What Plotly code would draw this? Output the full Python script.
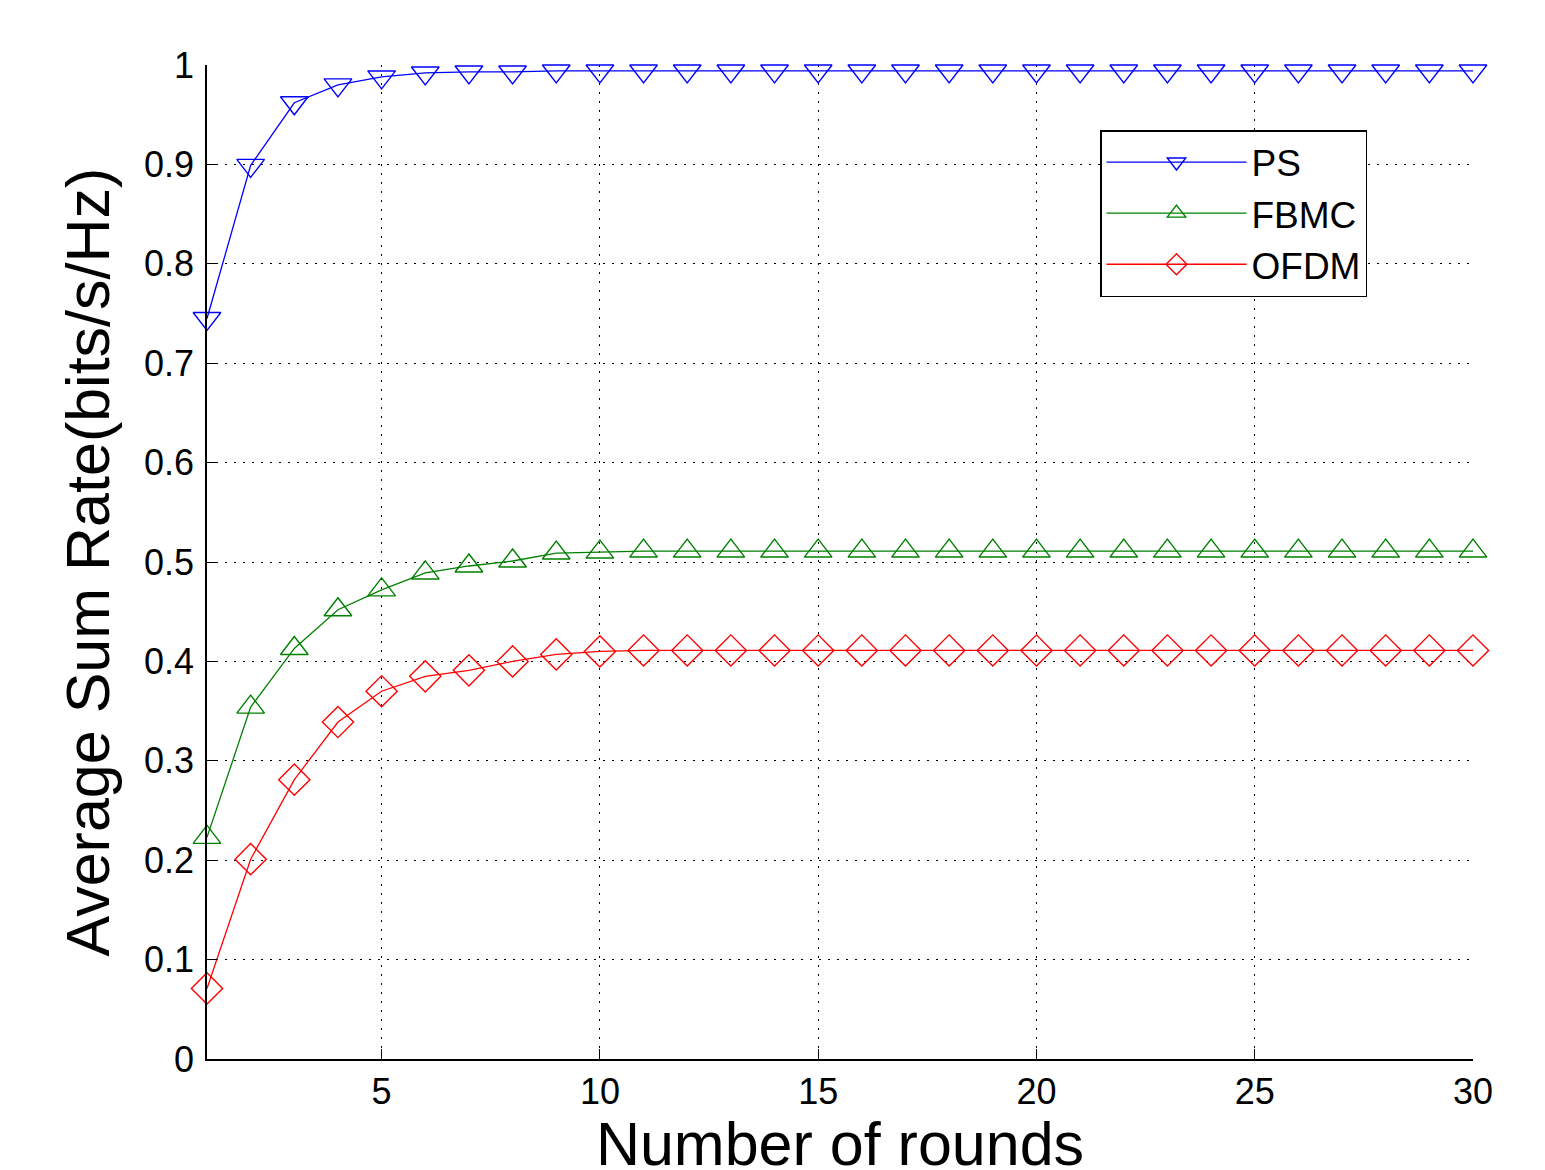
import plotly.graph_objects as go

rounds = list(range(1, 31))
ps = [0.745, 0.899, 0.962, 0.980, 0.988, 0.992, 0.993, 0.993, 0.994, 0.994,
      0.994, 0.994, 0.994, 0.994, 0.994, 0.994, 0.994, 0.994, 0.994, 0.994,
      0.994, 0.994, 0.994, 0.994, 0.994, 0.994, 0.994, 0.994, 0.994, 0.994]
fbmc = [0.223, 0.354, 0.413, 0.452, 0.472, 0.489, 0.496, 0.501, 0.509, 0.510,
        0.511, 0.511, 0.511, 0.511, 0.511, 0.511, 0.511, 0.511, 0.511, 0.511,
        0.511, 0.511, 0.511, 0.511, 0.511, 0.511, 0.511, 0.511, 0.511, 0.511]
ofdm = [0.071, 0.201, 0.281, 0.339, 0.370, 0.385, 0.391, 0.400, 0.407, 0.410,
        0.411, 0.411, 0.411, 0.411, 0.411, 0.411, 0.411, 0.411, 0.411, 0.411,
        0.411, 0.411, 0.411, 0.411, 0.411, 0.411, 0.411, 0.411, 0.411, 0.411]

x_ticks = [5, 10, 15, 20, 25, 30]
y_ticks = [0, 0.1, 0.2, 0.3, 0.4, 0.5, 0.6, 0.7, 0.8, 0.9, 1]
y_tick_labels = ["0", "0.1", "0.2", "0.3", "0.4", "0.5", "0.6", "0.7", "0.8", "0.9", "1"]

FONT = "Liberation Sans, Arial, sans-serif"

fig = go.Figure()
series = [
    ("PS", ps, "#0000FF", "triangle-down-open", 24),
    ("FBMC", fbmc, "#008000", "triangle-up-open", 24),
    ("OFDM", ofdm, "#FF0000", "diamond-open", 24),
]
for name, vals, col, sym, sz in series:
    fig.add_trace(go.Scatter(
        x=rounds, y=vals, name=name, mode="lines+markers",
        line=dict(color=col, width=1.3),
        marker=dict(symbol=sym, size=sz, color=col, line=dict(color=col, width=1.4)),
        cliponaxis=False,
    ))

L, T = 199, 57
PW, PH = 1266, 994
GRID_DASH = "2px,7px"
fig.update_layout(
    width=1545, height=1170,
    margin=dict(l=L, r=1545 - L - PW, t=T, b=1170 - T - PH, autoexpand=False),
    paper_bgcolor="white", plot_bgcolor="white",
    font=dict(family=FONT, color="black", size=36),
    showlegend=True,
    legend=dict(
        x=(1100 - 207) / 1266, y=(1059 - 130) / 994,
        xanchor="left", yanchor="top",
        bgcolor="white", bordercolor="black", borderwidth=1.5,
        font=dict(family=FONT, size=37, color="black"),
        itemwidth=140, tracegroupgap=0,
    ),
    xaxis=dict(
        range=[1, 30], tickvals=x_ticks, ticktext=[str(v) for v in x_ticks],
        showline=True, linecolor="black", linewidth=1.5,
        ticks="inside", ticklen=10, tickcolor="black", tickwidth=1,
        showgrid=True, gridcolor="black", griddash=GRID_DASH, gridwidth=1.3,
        zeroline=False, mirror=False,
        tickfont=dict(size=36),
        title=dict(text="Number of rounds", font=dict(size=61), standoff=36),
    ),
    yaxis=dict(
        range=[0, 1], tickvals=y_ticks, ticktext=y_tick_labels,
        showline=True, linecolor="black", linewidth=1.5,
        ticks="inside", ticklen=10, tickcolor="black", tickwidth=1,
        showgrid=True, gridcolor="black", griddash=GRID_DASH, gridwidth=1.3,
        zeroline=False, mirror=False,
        tickfont=dict(size=36), ticklabelstandoff=4,
        title=dict(text="Average Sum Rate(bits/s/Hz)", font=dict(size=61), standoff=15),
    ),
)

fig.write_html("out.html")
